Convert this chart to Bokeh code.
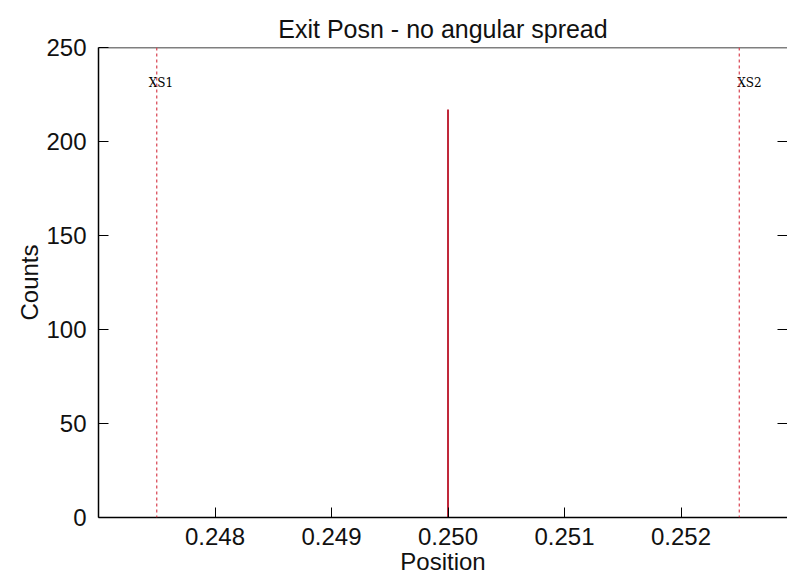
import math
from bokeh.plotting import figure
from bokeh.models import (Range1d, LinearAxis, FixedTicker, PrintfTickFormatter,
                          ColumnDataSource, Span)
from bokeh.core.properties import value
from bokeh.embed import file_html
from bokeh.resources import INLINE

# ---- data ----
title_text = "Exit Posn - no angular spread"
x_label = "Position"
y_label = "Counts"
hist_positions = [0.2500]
hist_counts = [217]
marker_names = ["XS1", "XS2"]
marker_positions = [0.2475, 0.2525]
marker_label_y = [231, 231]
x_ticks = [0.248, 0.249, 0.250, 0.251, 0.252]
y_ticks = [0, 50, 100, 150, 200, 250]
right_ticks = [50, 100, 150, 200]
x_start, x_end = 0.247, 0.252914
y_start, y_end = 0, 250

FONT = "Liberation Sans"

p = figure(width=787, height=583, output_backend="svg", toolbar_location=None,
           x_range=Range1d(x_start, x_end), y_range=Range1d(y_start, y_end),
           min_border_left=98, min_border_right=0, min_border_top=47,
           min_border_bottom=66, title=title_text, x_axis_location=None,
           y_axis_location=None)
p.outline_line_color = None
p.xgrid.visible = False
p.ygrid.visible = False
p.background_fill_color = "white"
p.border_fill_color = "white"

p.title.align = "center"
p.title.text_font = FONT
p.title.text_font_size = "25px"
p.title.text_font_style = "normal"
p.title.text_color = "#111111"

# bottom axis
xa = LinearAxis(ticker=FixedTicker(ticks=x_ticks),
                formatter=PrintfTickFormatter(format="%.3f"),
                axis_label=x_label)
# left axis
ya = LinearAxis(ticker=FixedTicker(ticks=y_ticks), axis_label=y_label)
for ax in (xa, ya):
    ax.major_tick_in = 10
    ax.major_tick_out = 0
    ax.minor_tick_line_color = None
    ax.axis_line_color = "black"
    ax.axis_line_width = 1.5
    ax.major_tick_line_color = "black"
    ax.major_label_text_font = FONT
    ax.major_label_text_font_size = "24px"
    ax.major_label_text_color = "#111111"
    ax.axis_label_text_font = FONT
    ax.axis_label_text_font_size = "24px"
    ax.axis_label_text_font_style = "normal"
    ax.axis_label_text_color = "#111111"
xa.major_label_standoff = 10
xa.axis_label_standoff = 0
ya.major_label_standoff = 12
ya.axis_label_standoff = 0
p.add_layout(xa, "below")
p.add_layout(ya, "left")

# top border line
p.add_layout(Span(location=y_end, dimension="width", line_color="black",
                  line_width=1.5))

# right-side inward ticks (spine lies beyond the visible area)
rsrc = ColumnDataSource(dict(x=[x_end] * len(right_ticks), y=right_ticks))
p.ray(x="x", y="y", length=10, length_units="screen", angle=math.pi,
      source=rsrc, line_color="black", line_width=1)

# marker lines
for pos in marker_positions:
    p.add_layout(Span(location=pos, dimension="height", line_color="#d8404e",
                      line_dash="3 3", line_width=1.2))

msrc = ColumnDataSource(dict(x=marker_positions, y=marker_label_y,
                             name=marker_names, dx=[-8, -2]))
p.text(x="x", y="y", text="name", x_offset="dx", source=msrc,
       text_font=value("DejaVu Serif"), text_font_size="12px",
       text_align="left", text_baseline="middle", text_color="black")

# histogram spike
hsrc = ColumnDataSource(dict(x=hist_positions, y=hist_counts,
                             y0=[0] * len(hist_counts)))
p.segment(x0="x", y0="y0", x1="x", y1="y", source=hsrc,
          line_color="#c0283a", line_width=2)

open("out.html", "w").write(file_html(p, INLINE))
